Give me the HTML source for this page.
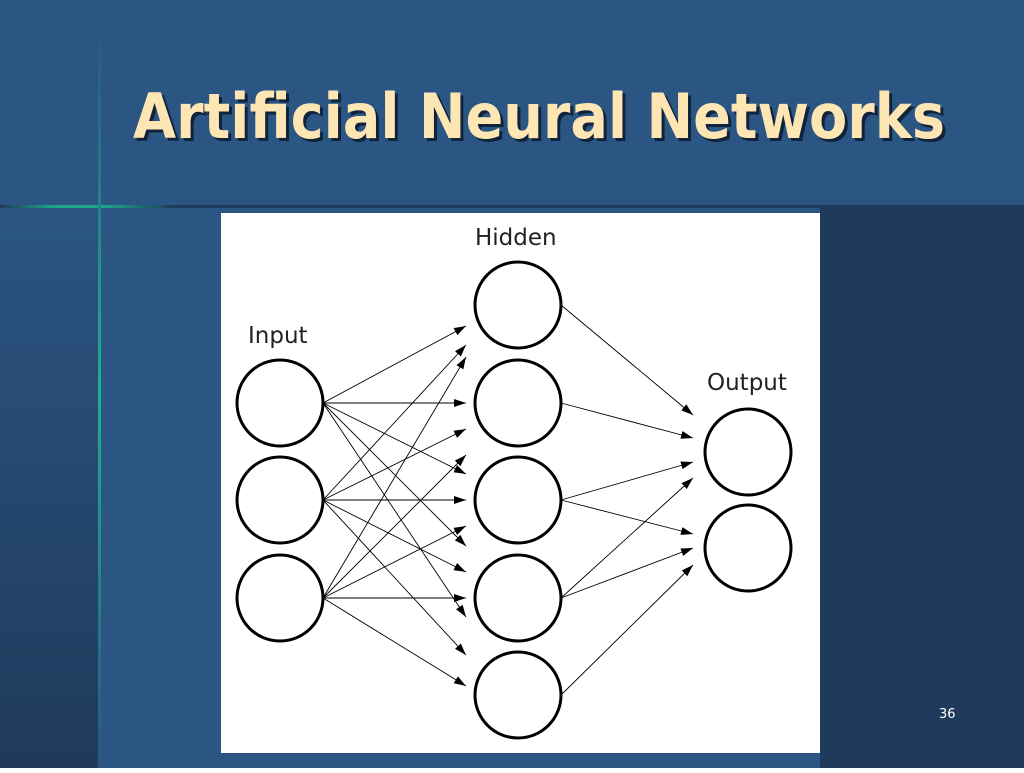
<!DOCTYPE html>
<html><head><style>html,body{margin:0;padding:0;}body{width:1024px;height:768px;overflow:hidden;}</style></head>
<body>
<svg width="1024" height="768" xmlns="http://www.w3.org/2000/svg">
<defs>
<linearGradient id="lg" x1="0" y1="0" x2="0" y2="1"><stop offset="0" stop-color="#2b5583"/><stop offset="1" stop-color="#1f3a5a"/></linearGradient>
<linearGradient id="gh" x1="0" y1="0" x2="1" y2="0"><stop offset="0" stop-color="#1f3a5a"/><stop offset="0.3" stop-color="#1fa58a"/><stop offset="0.6" stop-color="#1fa58a"/><stop offset="1" stop-color="#1f3a5a"/></linearGradient>
<linearGradient id="gv" x1="0" y1="0" x2="0" y2="1"><stop offset="0" stop-color="#2b5583"/><stop offset="0.5" stop-color="#1fb08e"/><stop offset="1" stop-color="#2b5583"/></linearGradient>
<marker id="a" markerWidth="12" markerHeight="8" refX="12" refY="4" orient="auto" markerUnits="userSpaceOnUse"><path d="M0,0 L12,4 L0,8 z" fill="#000"/></marker>
</defs>
<rect width="1024" height="768" fill="#2b5583"/>
<rect x="0" y="207" width="98" height="561" fill="url(#lg)"/>
<rect x="820" y="207" width="204" height="561" fill="#1f3a5a"/>
<rect x="0" y="205" width="1024" height="3" fill="#1f3a5a"/>
<rect x="0" y="205" width="175" height="3" fill="url(#gh)"/>
<rect x="98" y="20" width="3" height="748" fill="url(#gv)"/>
<text x="133" y="138" font-family="DejaVu Sans, Liberation Sans, sans-serif" font-weight="bold" font-size="62" fill="#10233a" textLength="812" lengthAdjust="spacingAndGlyphs" transform="translate(3,3)">Artificial Neural Networks</text>
<text x="133" y="138" font-family="DejaVu Sans, Liberation Sans, sans-serif" font-weight="bold" font-size="62" fill="#fde6b4" textLength="812" lengthAdjust="spacingAndGlyphs">Artificial Neural Networks</text>
<rect x="221" y="213" width="599" height="540" fill="#fff"/>
<g font-family="DejaVu Sans, sans-serif" font-size="23" fill="#222">
<text x="475" y="245">Hidden</text>
<text x="248" y="343">Input</text>
<text x="707" y="390">Output</text>
</g>
<g stroke="#000" stroke-width="0.9" marker-end="url(#a)">
<line x1="323" y1="403" x2="466" y2="326"/>
<line x1="323" y1="403" x2="466" y2="403"/>
<line x1="323" y1="403" x2="466" y2="474"/>
<line x1="323" y1="403" x2="466" y2="546"/>
<line x1="323" y1="403" x2="466" y2="617"/>
<line x1="323" y1="500" x2="466" y2="345"/>
<line x1="323" y1="500" x2="466" y2="429"/>
<line x1="323" y1="500" x2="466" y2="500"/>
<line x1="323" y1="500" x2="466" y2="572"/>
<line x1="323" y1="500" x2="466" y2="655"/>
<line x1="323" y1="598" x2="466" y2="357"/>
<line x1="323" y1="598" x2="466" y2="455"/>
<line x1="323" y1="598" x2="466" y2="526"/>
<line x1="323" y1="598" x2="466" y2="598"/>
<line x1="323" y1="598" x2="466" y2="686"/>
<line x1="561" y1="305" x2="693" y2="415"/>
<line x1="561" y1="403" x2="693" y2="438"/>
<line x1="561" y1="500" x2="693" y2="462"/>
<line x1="561" y1="598" x2="693" y2="478"/>
<line x1="561" y1="695" x2="693" y2="565"/>
<line x1="561" y1="598" x2="693" y2="548"/>
<line x1="561" y1="500" x2="693" y2="534"/>
</g>
<g fill="#fff" stroke="#000" stroke-width="3">
<circle cx="280" cy="403" r="43"/><circle cx="280" cy="500" r="43"/><circle cx="280" cy="598" r="43"/>
<circle cx="518" cy="305" r="43"/><circle cx="518" cy="403" r="43"/><circle cx="518" cy="500" r="43"/><circle cx="518" cy="598" r="43"/><circle cx="518" cy="695" r="43"/>
<circle cx="748" cy="452" r="43"/><circle cx="748" cy="548" r="43"/>
</g>
<text x="939" y="718" font-family="DejaVu Sans, sans-serif" font-size="13" fill="#fff">36</text>
</svg>
</body></html>
